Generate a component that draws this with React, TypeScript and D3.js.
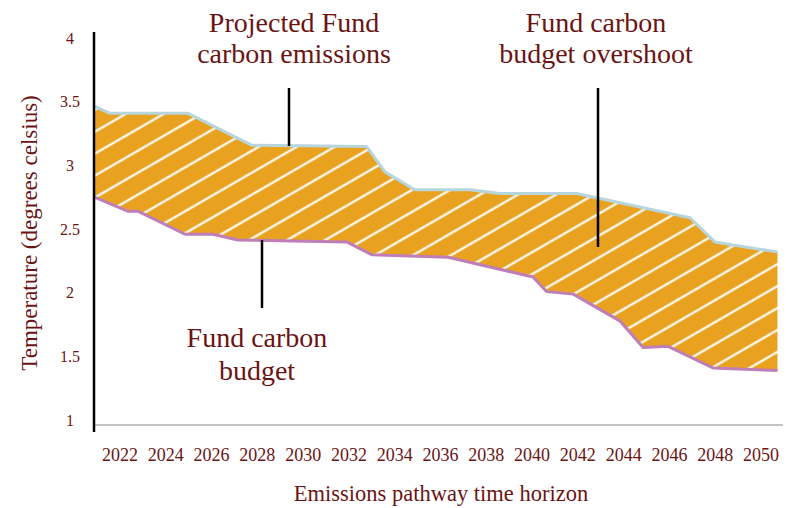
import React from "react";
import * as d3 from "d3";

// Tick labels
const xTickYears = [2022, 2024, 2026, 2028, 2030, 2032, 2034, 2036, 2038, 2040, 2042, 2044, 2046, 2048, 2050];
const yTicks = [1, 1.5, 2, 2.5, 3, 3.5, 4];

// Projected Fund carbon emissions (upper boundary) — year, temperature
const emissionsYears = [2020.83, 2021.56, 2024.97, 2027.75, 2032.77, 2033.57, 2034.88, 2037.28, 2038.59, 2041.94, 2046.9, 2047.98, 2050.72];
const emissionsTemps = [3.5, 3.44, 3.44, 3.19, 3.18, 2.98, 2.84, 2.84, 2.81, 2.81, 2.62, 2.43, 2.35];

// Fund carbon budget (lower boundary)
const budgetYears = [2020.83, 2022.36, 2022.8, 2024.84, 2026.06, 2027.15, 2031.9, 2032.99, 2036.33, 2040.04, 2040.63, 2041.8, 2043.83, 2044.85, 2045.94, 2047.9, 2050.72];
const budgetTemps = [2.785, 2.67, 2.67, 2.49, 2.49, 2.445, 2.43, 2.33, 2.31, 2.155, 2.04, 2.02, 1.81, 1.6, 1.61, 1.44, 1.42];

const W = 786;
const H = 508;
const TEXT = "#6b1414";
const FONT = "'Liberation Serif', 'Times New Roman', serif";

export default function App() {
  const x = d3.scaleLinear().domain([2022, 2050]).range([120, 761]);
  const y = d3.scaleLinear().domain([1, 4]).range([424, 42]);

  const upper = emissionsYears.map((yr, i) => [yr, emissionsTemps[i]] as [number, number]);
  const lower = budgetYears.map((yr, i) => [yr, budgetTemps[i]] as [number, number]);

  const line = d3
    .line<[number, number]>()
    .x((d) => x(d[0]))
    .y((d) => y(d[1]));

  const polygon = [...upper, ...lower.slice().reverse()];
  const areaPath = line(polygon) + "Z";

  return (
    <svg
      width={W}
      height={H}
      style={{ position: "absolute", left: 0, top: 0, background: "#fff" }}
      fontFamily={FONT}
    >
      <defs>
        <pattern
          id="hatch"
          patternUnits="userSpaceOnUse"
          width={19}
          height={19}
          patternTransform="rotate(-30)"
        >
          <rect width={19} height={19} fill="#E8A21F" />
          <line x1={0} y1={9.5} x2={19} y2={9.5} stroke="#ffffff" strokeWidth={2.2} />
        </pattern>
      </defs>

      {/* x axis baseline */}
      <line x1={94} x2={783} y1={425} y2={425} stroke="#8a8a8a" strokeWidth={1} />

      {/* overshoot area */}
      <path d={areaPath} fill="url(#hatch)" stroke="none" />
      <path d={line(upper) || ""} fill="none" stroke="#B7D5DC" strokeWidth={3} strokeLinejoin="round" />
      <path d={line(lower) || ""} fill="none" stroke="#C07EB9" strokeWidth={3} strokeLinejoin="round" />

      {/* y axis line */}
      <line x1={94} x2={94} y1={32} y2={432} stroke="#000" strokeWidth={2.5} />

      {/* y ticks */}
      {yTicks.map((t) => (
        <text key={t} x={70} y={y(t) + 1.5} textAnchor="middle" fontSize={16} fill={TEXT}>
          {t}
        </text>
      ))}

      {/* x ticks */}
      {xTickYears.map((t) => (
        <text key={t} x={x(t)} y={461} textAnchor="middle" fontSize={18} fill={TEXT}>
          {t}
        </text>
      ))}

      {/* axis titles */}
      <text
        transform="translate(37,233) rotate(-90)"
        textAnchor="middle"
        fontSize={23}
        fill={TEXT}
      >
        Temperature (degrees celsius)
      </text>
      <text x={441} y={501} textAnchor="middle" fontSize={22.5} fill={TEXT}>
        Emissions pathway time horizon
      </text>

      {/* annotation leader lines */}
      <line x1={289} x2={289} y1={88} y2={146} stroke="#000" strokeWidth={2.5} />
      <line x1={262} x2={262} y1={240} y2={308} stroke="#000" strokeWidth={2.5} />
      <line x1={598} x2={598} y1={88} y2={247} stroke="#000" strokeWidth={2.5} />

      {/* annotations */}
      <text textAnchor="middle" fontSize={28} fill={TEXT}>
        <tspan x={294} y={32}>Projected Fund</tspan>
        <tspan x={294} y={63}>carbon emissions</tspan>
      </text>
      <text textAnchor="middle" fontSize={28} fill={TEXT}>
        <tspan x={596} y={32}>Fund carbon</tspan>
        <tspan x={596} y={63}>budget overshoot</tspan>
      </text>
      <text textAnchor="middle" fontSize={28} fill={TEXT}>
        <tspan x={257} y={347}>Fund carbon</tspan>
        <tspan x={257} y={380}>budget</tspan>
      </text>
    </svg>
  );
}
